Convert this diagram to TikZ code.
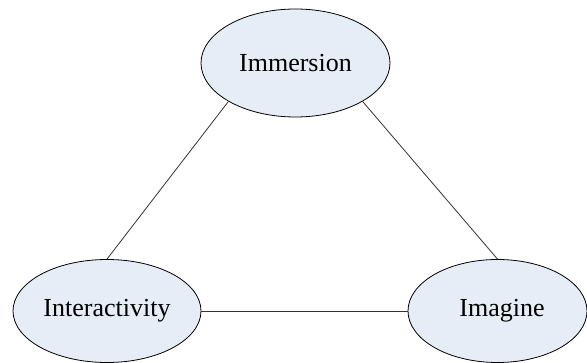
\documentclass[tikz,border=0pt]{standalone}
\usepackage{fontspec}
\setmainfont{Liberation Serif}
\usetikzlibrary{shapes.geometric}
\definecolor{ellfill}{RGB}{231,237,247}
\begin{document}
\begin{tikzpicture}[x=1pt,y=-1pt,
  ell/.style={ellipse, draw=black, line width=0.8pt, fill=ellfill, inner sep=0pt, font=\fontsize{26}{30}\selectfont},
  conn/.style={draw=black!80, line width=0.8pt}]
\useasboundingbox (0,0) rectangle (587,363);
\node[ell, minimum width=189pt, minimum height=108pt] (imm) at (295.5,63) {Immersion};
\node[ell, minimum width=188pt, minimum height=103pt] (int) at (107,311) {Interactivity};
\node[ell, minimum width=179pt, minimum height=103pt] (ima) at (497.5,311) {\hspace{9pt}Imagine};
\draw[conn] (imm.south west) -- (int.north);
\draw[conn] (imm.south east) -- (ima.north);
\draw[conn] (int) -- (ima);
\end{tikzpicture}
\end{document}
